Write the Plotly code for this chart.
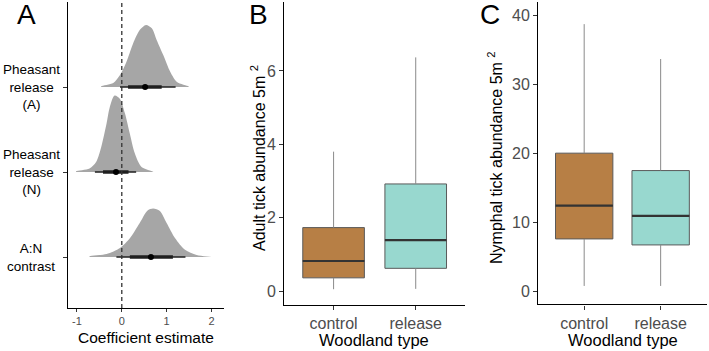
import plotly.graph_objects as go

# ---------------- Data ----------------
# Panel A: posterior densities, heights in category units
dens_x_A = [-0.46, -0.19, -0.04, 0.10, 0.25, 0.40, 0.54, 0.67, 0.78, 0.93, 1.08, 1.23, 1.49]
dens_h_A = [0.008, 0.047, 0.14, 0.29, 0.51, 0.67, 0.73, 0.69, 0.55, 0.37, 0.18, 0.06, 0.008]
dens_x_N = [-1.02, -0.72, -0.57, -0.46, -0.34, -0.27, -0.16, -0.04, 0.07, 0.18, 0.29, 0.44, 0.70]
dens_h_N = [0.008, 0.04, 0.12, 0.29, 0.57, 0.76, 0.90, 0.86, 0.69, 0.45, 0.22, 0.06, 0.004]
dens_x_AN = [-0.72, -0.34, -0.04, 0.18, 0.40, 0.57, 0.70, 0.85, 1.00, 1.19, 1.41, 1.67, 2.05]
dens_h_AN = [0.008, 0.035, 0.106, 0.22, 0.40, 0.545, 0.57, 0.54, 0.40, 0.22, 0.086, 0.024, 0.0]

labels_A = ["Pheasant<br>release<br>(A)", "Pheasant<br>release<br>(N)", "A:N<br>contrast"]
pos_A = [3, 2, 1]
point_est = [0.52, -0.13, 0.65]
lo66 = [0.14, -0.42, 0.18]
hi66 = [0.89, 0.15, 1.14]
lo95 = [-0.04, -0.60, -0.12]
hi95 = [1.20, 0.32, 1.42]
xticks_A = [-1, 0, 1, 2]

# Panels B & C: boxplots
woodland = ["control", "release"]
wood_pos = [1, 2]
adult_low = [0.05, 0.06]
adult_q1 = [0.36, 0.62]
adult_med = [0.82, 1.39]
adult_q3 = [1.73, 2.92]
adult_high = [3.80, 6.37]
nymph_low = [0.83, 0.83]
nymph_q1 = [7.64, 6.77]
nymph_med = [12.47, 10.97]
nymph_q3 = [20.06, 17.54]
nymph_high = [38.75, 33.70]
yticks_B = [0, 2, 4, 6]
yticks_C = [0, 10, 20, 30, 40]

box_colors = ["#b77f45", "#98d8cf"]

FONT = "Liberation Sans, Arial, sans-serif"
W, H = 709, 351

def px_x(p):
    return p / W

def px_y(p):
    return (H - p) / H

fig = go.Figure()

# ---------------- Panel A ----------------
dens_sets = [(dens_x_A, dens_h_A), (dens_x_N, dens_h_N), (dens_x_AN, dens_h_AN)]
for (xs, hs), base in zip(dens_sets, pos_A):
    xx = [xs[0]] + xs + [xs[-1]]
    yy = [base] + [base + h for h in hs] + [base]
    fig.add_trace(go.Scatter(x=xx, y=yy, mode="lines", fill="toself",
                             fillcolor="#a6a6a6", line=dict(color="rgba(0,0,0,0)", width=0, shape="spline", smoothing=0.8),
                             hoverinfo="skip", showlegend=False, xaxis="x", yaxis="y"))

for i, base in enumerate(pos_A):
    fig.add_trace(go.Scatter(x=[lo95[i], hi95[i]], y=[base, base], mode="lines",
                             line=dict(color="#1f1f1f", width=1.6), showlegend=False,
                             xaxis="x", yaxis="y"))
    fig.add_trace(go.Scatter(x=[lo66[i], hi66[i]], y=[base, base], mode="lines",
                             line=dict(color="#1f1f1f", width=3.5), showlegend=False,
                             xaxis="x", yaxis="y"))
    fig.add_trace(go.Scatter(x=[point_est[i]], y=[base], mode="markers",
                             marker=dict(color="black", size=6), showlegend=False,
                             xaxis="x", yaxis="y"))

# dashed zero line
fig.add_shape(type="line", xref="x", yref="y", x0=0, x1=0, y0=0.4, y1=4.0,
              line=dict(color="#333333", width=1.3, dash="4px,3px"))

# ---------------- Panels B & C ----------------
def add_boxes(low, q1, med, q3, high, xa, ya):
    half = 0.375
    for i, xp in enumerate(wood_pos):
        fig.add_trace(go.Scatter(x=[xp, xp], y=[low[i], q1[i]], mode="lines",
                                 line=dict(color="#8a8a8a", width=1), showlegend=False,
                                 xaxis=xa, yaxis=ya, hoverinfo="skip"))
        fig.add_trace(go.Scatter(x=[xp, xp], y=[q3[i], high[i]], mode="lines",
                                 line=dict(color="#8a8a8a", width=1), showlegend=False,
                                 xaxis=xa, yaxis=ya, hoverinfo="skip"))
        fig.add_trace(go.Box(x=[xp], q1=[q1[i]], median=[med[i]], q3=[q3[i]],
                             lowerfence=[q1[i]], upperfence=[q3[i]],
                             width=0.75, fillcolor=box_colors[i],
                             line=dict(color="#5a5a5a", width=1), whiskerwidth=0,
                             showlegend=False, xaxis=xa, yaxis=ya))
        fig.add_trace(go.Scatter(x=[xp - half, xp + half], y=[med[i], med[i]], mode="lines",
                                 line=dict(color="#333333", width=2.2), showlegend=False,
                                 xaxis=xa, yaxis=ya, hoverinfo="skip"))

add_boxes(adult_low, adult_q1, adult_med, adult_q3, adult_high, "x2", "y2")
add_boxes(nymph_low, nymph_q1, nymph_med, nymph_q3, nymph_high, "x3", "y3")

# ---------------- Axes ----------------
axis_common = dict(showline=True, linecolor="black", linewidth=1.4, showgrid=False,
                   zeroline=False, ticks="outside", tickcolor="#333333", ticklen=4,
                   tickwidth=1, mirror=False)

fig.update_layout(
    width=W, height=H,
    margin=dict(l=0, r=0, t=0, b=0),
    paper_bgcolor="white", plot_bgcolor="white",
    font=dict(family=FONT, color="black"),
    showlegend=False,
    xaxis=dict(domain=[px_x(68), px_x(224)], range=[-1.2, 2.28], tickvals=xticks_A,
               ticktext=[str(v) for v in xticks_A], tickfont=dict(size=11, color="#4d4d4d"),
               ticklen=3, anchor="y", **{k: v for k, v in axis_common.items() if k != "ticklen"}),
    yaxis=dict(domain=[px_y(308), px_y(2)], range=[0.4, 4.0], tickvals=pos_A,
               showticklabels=False, anchor="x", **axis_common),
    xaxis2=dict(domain=[px_x(284.3), px_x(465)], range=[0.4, 2.6], tickvals=wood_pos,
                ticktext=woodland, tickfont=dict(size=16, color="#4d4d4d"), anchor="y2",
                **axis_common),
    yaxis2=dict(domain=[px_y(305), px_y(2)], range=[-0.38, 7.88], tickvals=yticks_B,
                tickfont=dict(size=16, color="#4d4d4d"), anchor="x2", **axis_common),
    xaxis3=dict(domain=[px_x(538.3), px_x(707.3)], range=[0.4, 2.61], tickvals=wood_pos,
                ticktext=woodland, tickfont=dict(size=16, color="#4d4d4d"), anchor="y3",
                **axis_common),
    yaxis3=dict(domain=[px_y(304.3), px_y(1.7)], range=[-1.83, 42.0], tickvals=yticks_C,
                tickfont=dict(size=16, color="#4d4d4d"), anchor="x3", **axis_common),
)

ann = []
for text, base in zip(labels_A, pos_A):
    ann.append(dict(x=px_x(31), xref="paper", y=base, yref="y",
                    text=text, showarrow=False, xanchor="center", yanchor="middle",
                    align="center", font=dict(size=13.5, color="black")))

ann.append(dict(x=px_x(146), y=px_y(337), xref="paper", yref="paper", text="Coefficient estimate",
                showarrow=False, xanchor="center", yanchor="middle", font=dict(size=15.5)))
ann.append(dict(x=px_x(374.5), y=px_y(340), xref="paper", yref="paper", text="Woodland type",
                showarrow=False, xanchor="center", yanchor="middle", font=dict(size=16.5)))
ann.append(dict(x=px_x(622.5), y=px_y(340), xref="paper", yref="paper", text="Woodland type",
                showarrow=False, xanchor="center", yanchor="middle", font=dict(size=16.5)))
ann.append(dict(x=px_x(258), y=px_y(158), xref="paper", yref="paper",
                text="Adult tick abundance 5m <sup>2</sup>", textangle=-90,
                showarrow=False, xanchor="center", yanchor="middle", font=dict(size=16)))
ann.append(dict(x=px_x(495), y=px_y(158), xref="paper", yref="paper",
                text="Nymphal tick abundance 5m <sup>2</sup>", textangle=-90,
                showarrow=False, xanchor="center", yanchor="middle", font=dict(size=16)))

for letter, xp in [("A", 15), ("B", 246.5), ("C", 478)]:
    ann.append(dict(x=px_x(xp), y=px_y(15), xref="paper", yref="paper", text=letter,
                    showarrow=False, xanchor="left", yanchor="middle", font=dict(size=28)))

fig.update_layout(annotations=ann)

fig.write_html("out.html", config={"displayModeBar": False},
               post_script="document.body.style.margin='0';document.body.style.padding='0';")
